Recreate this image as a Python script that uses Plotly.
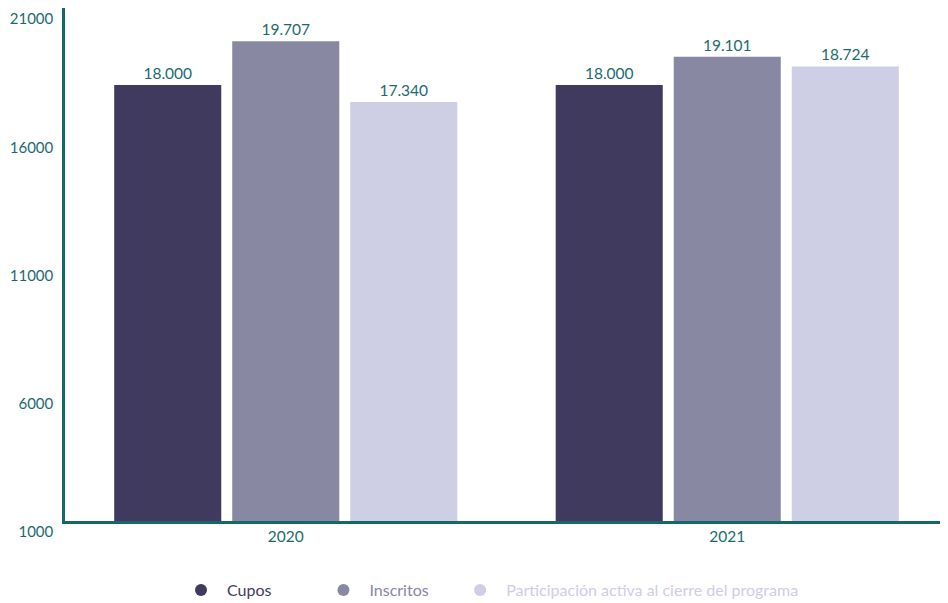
import plotly.graph_objects as go

years = ["2020", "2021"]
series_names = ["Cupos", "Inscritos", "Participación activa al cierre del programa"]
cupos = [18000, 18000]
inscritos = [19707, 19101]
participacion = [17340, 18724]
value_labels = {
    "Cupos": ["18.000", "18.000"],
    "Inscritos": ["19.707", "19.101"],
    "Participación activa al cierre del programa": ["17.340", "18.724"],
}
tick_vals = [1000, 6000, 11000, 16000, 21000]
tick_text = ["1000", "6000", "11000", "16000", "21000"]
legend_pad = [10, 5, 0]

colors = ["#3f3a5e", "#8988a2", "#cecee5"]
teal = "#1b6b6e"
axis_color = "#13696a"
font_family = "Lato, 'Noto Sans', sans-serif"

fig = go.Figure()
for name, vals, col in zip(series_names, [cupos, inscritos, participacion], colors):
    fig.add_trace(go.Bar(
        x=years, y=vals, name=name, marker=dict(color=col, line=dict(width=0)),
        text=value_labels[name], textposition="outside", cliponaxis=False,
        textfont=dict(color=teal, size=15.5, family=font_family),
        showlegend=False, base=0,
    ))
for name, col, pad in zip(series_names, colors, legend_pad):
    fig.add_trace(go.Scatter(
        x=[None], y=[None], mode="markers",
        marker=dict(symbol="circle", size=16, color=col),
        name=f"<span style='color:{col}'>{name}</span>" + "&nbsp;" * pad,
        showlegend=True,
    ))

fig.update_layout(
    width=940, height=595,
    margin=dict(l=57, r=0, t=0, b=82, autoexpand=False),
    paper_bgcolor="white", plot_bgcolor="white",
    barmode="group", bargap=0.198, bargroupgap=0.093,
    font=dict(family=font_family, color=teal, size=15),
    showlegend=True,
    legend=dict(orientation="h", x=(175 - 65) / 883, xanchor="left", y=-0.1345, yanchor="middle",
                font=dict(size=16, family=font_family), itemsizing="constant",
                traceorder="normal", itemwidth=42),
    xaxis=dict(showline=True, linecolor=axis_color, linewidth=2.5, ticks="",
               tickfont=dict(color=teal, size=15.5, family=font_family),
               showgrid=False, zeroline=False, automargin=False),
    yaxis=dict(range=[1000, 21000], tickvals=tick_vals, ticktext=tick_text, showline=True,
               linecolor=axis_color, automargin=False,
               linewidth=2.5, showgrid=False, zeroline=False, ticks="",
               tickfont=dict(color=teal, size=15, family=font_family),
               ticklabelshift=11, ticklabelstandoff=6),
)

fig.write_html("out.html")
